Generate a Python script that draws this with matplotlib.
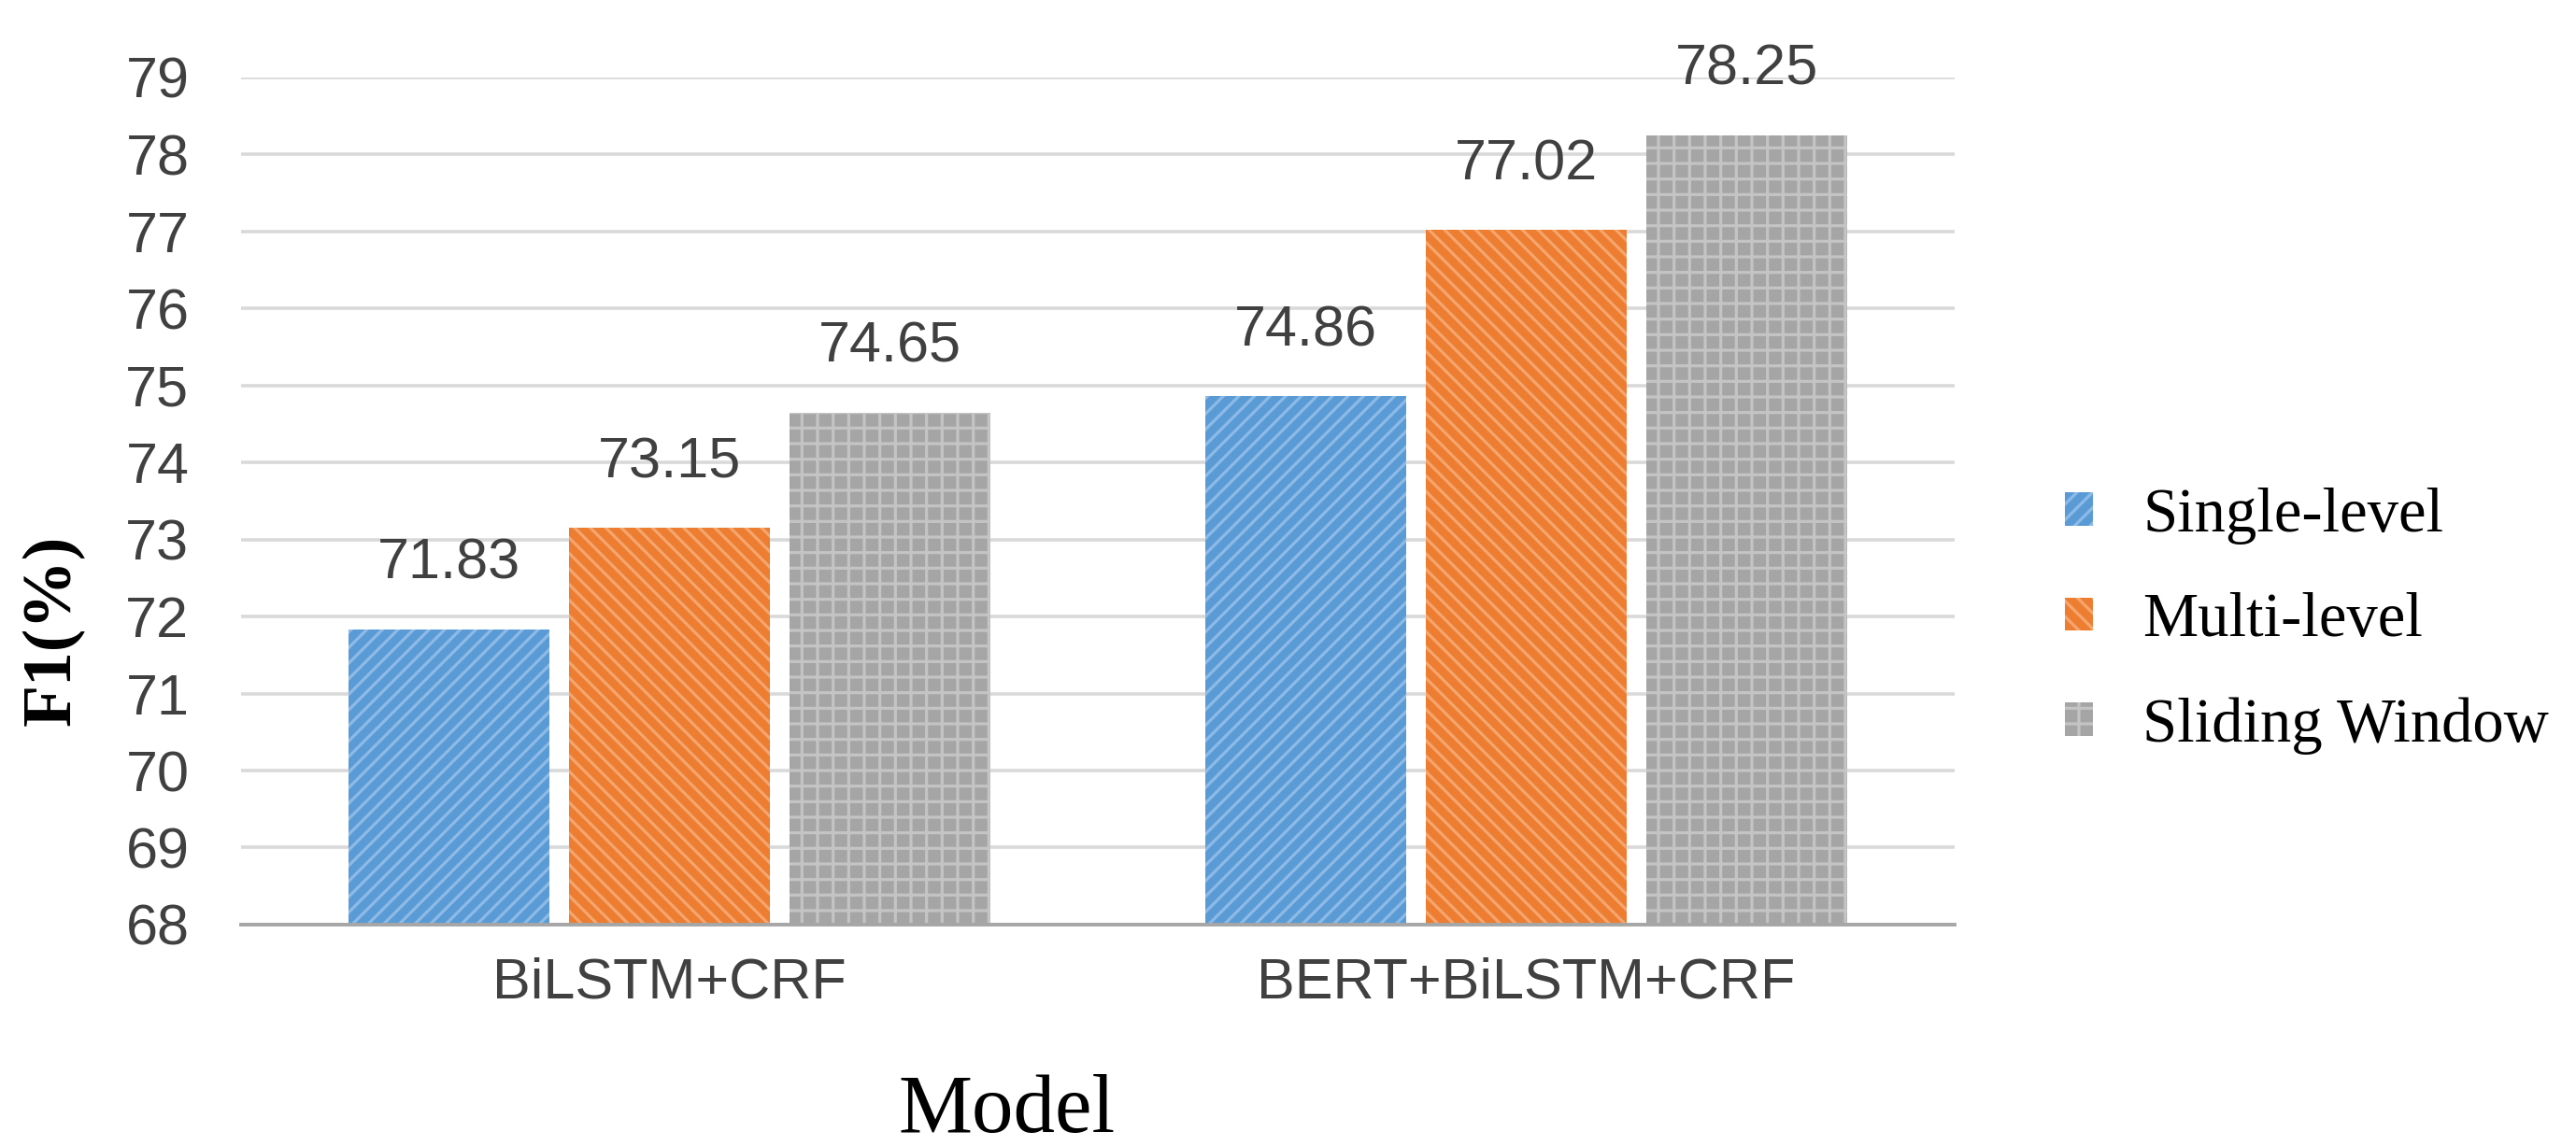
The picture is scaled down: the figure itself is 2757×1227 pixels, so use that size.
import numpy as np
import matplotlib
matplotlib.use('Agg')
import matplotlib.pyplot as plt

# chart data
models = ['BiLSTM+CRF', 'BERT+BiLSTM+CRF']
series = ['Single-level', 'Multi-level', 'Sliding Window']
single_level = [71.83, 74.86]
multi_level = [73.15, 77.02]
sliding_window = [74.65, 78.25]
y_ticks = [68, 69, 70, 71, 72, 73, 74, 75, 76, 77, 78, 79]

colors = ['#5B9BD5', '#ED7D31', '#A5A5A5']
hatch_colors = ['#8DBAE6', '#F5A56E', '#C4C4C4']
hatches = ['//', '\\\\', '+']

plt.rcParams['hatch.linewidth'] = 2.3

fig = plt.figure(figsize=(27.57, 12.27), dpi=100)
ax = fig.add_axes([0.0936, 0.1932, 0.6652, 0.7392])

x = np.arange(len(models))
width = 0.2345
offset = 0.2573

values = [single_level, multi_level, sliding_window]
for i, vals in enumerate(values):
    pos = x + (i - 1) * offset
    bars = ax.bar(pos, np.array(vals) - 68, width, bottom=68, color=colors[i],
                  edgecolor=hatch_colors[i], linewidth=0, hatch=hatches[i],
                  label=series[i], zorder=3)
    for xp, v in zip(pos, vals):
        ax.annotate(f'{v:.2f}', xy=(xp, v), xytext=(0, 39), textcoords='offset points',
                    ha='center', va='baseline', fontsize=44,
                    family='Liberation Sans', color='#404040')

ax.set_xlim(-0.5, 1.5)
ax.set_ylim(68, 79)
ax.set_yticks(y_ticks)
ax.set_xticks(x)
ax.set_xticklabels(models)
ax.tick_params(axis='both', length=0, labelsize=44, colors='#404040')
ax.tick_params(axis='y', pad=40)
ax.tick_params(axis='x', pad=25)
for lab in ax.get_xticklabels() + ax.get_yticklabels():
    lab.set_family('Liberation Sans')

ax.grid(axis='y', color='#D9D9D9', linewidth=2.6, zorder=0)
for s in ['top', 'right', 'left']:
    ax.spines[s].set_visible(False)
ax.spines['bottom'].set_color('#A6A6A6')
ax.spines['bottom'].set_linewidth(2.8)
ax.spines['bottom'].set_zorder(4)

fig.text(0.0207, 0.45, 'F1(%)', rotation=90, ha='center', va='center',
         fontsize=53, fontweight='bold', family='Liberation Serif')
fig.text(0.391, 0.0122, 'Model', ha='center', va='baseline',
         fontsize=64, family='Liberation Serif')

ax.legend(loc='center left', bbox_to_anchor=(0.8016, 0.458),
          bbox_transform=fig.transFigure, frameon=False,
          prop={'family': 'Liberation Serif', 'size': 48},
          handlelength=0.45, handleheight=0.45, handletextpad=0.8,
          labelspacing=0.77, borderpad=0, borderaxespad=0)

fig.savefig('out.png', dpi=100)
